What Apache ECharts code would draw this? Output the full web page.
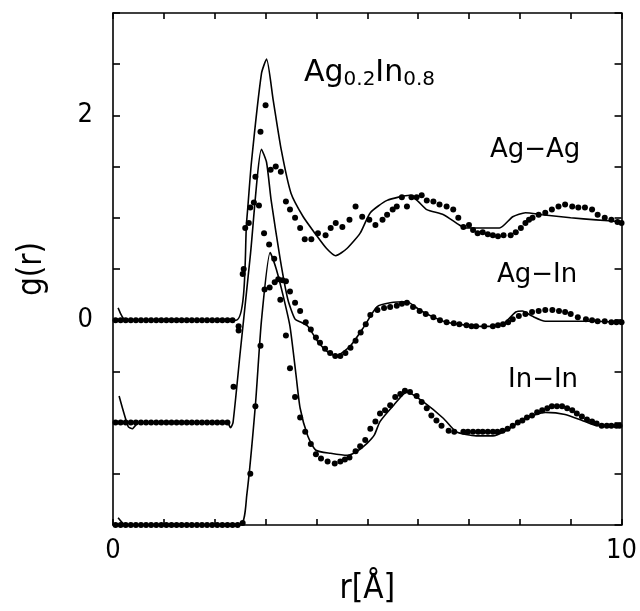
<!DOCTYPE html>
<html>
<head>
<meta charset="utf-8">
<script src="https://cdn.jsdelivr.net/npm/echarts@6/dist/echarts.min.js"></script>
<style>
    html, body { margin: 0; padding: 0; background: #fff; }
    #chart1 { width: 640px; height: 611px; }
</style>
</head>
<body>
<div id="chart1"></div>
<script>
// offsets used in the figure to stack the three pair distributions
var offsets = [0, -1, -2];
var pairNames = ['Ag-Ag', 'Ag-In', 'In-In'];

// tick labels that are printed
var xLabels = [0, 10];
var yLabels = [0, 2];

// theory (solid lines), g(r) unshifted
var agAgLine = [[0.1,0.12],[0.25,0],[2.42,0],[2.63,0.98],[2.72,1.53],[2.92,2.41],[3.02,2.55],[3.15,2.15],[3.31,1.66],[3.5,1.24],[3.74,1.01],[3.97,0.85],[4.2,0.7],[4.38,0.63],[4.6,0.7],[4.86,0.85],[5.06,1.05],[5.39,1.17],[5.84,1.22],[6.0,1.16],[6.17,1.08],[6.5,1.03],[6.81,0.93],[6.95,0.9],[7.6,0.9],[7.86,1.01],[8.11,1.05],[8.44,1.03],[9.0,1.0],[9.5,0.98],[10,0.96]];
var agInLine = [[0.12,0.26],[0.3,-0.04],[0.38,-0.06],[0.5,0],[2.25,0],[2.31,-0.05],[2.36,0],[2.5,0.68],[2.7,1.63],[2.92,2.67],[3.02,2.54],[3.11,2.17],[3.29,1.59],[3.44,1.2],[3.58,1.01],[3.7,0.98],[3.83,0.94],[4.03,0.79],[4.22,0.69],[4.38,0.65],[4.67,0.75],[4.94,0.94],[5.19,1.13],[5.45,1.17],[5.78,1.18],[6.03,1.1],[6.3,1.03],[6.56,0.98],[6.81,0.96],[7.14,0.94],[7.47,0.94],[7.67,0.96],[7.92,1.08],[8.05,1.09],[8.24,1.04],[8.5,0.99],[8.9,0.99],[9.5,0.99],[10,0.98]];
var inInLine = [[0.1,0.07],[0.25,0],[2.5,0],[2.63,0.29],[2.8,1.17],[2.92,2.0],[3.09,2.66],[3.21,2.5],[3.35,2.23],[3.48,1.94],[3.6,1.46],[3.68,1.14],[3.83,0.87],[3.99,0.73],[4.28,0.7],[4.61,0.68],[4.8,0.72],[5.0,0.8],[5.14,0.88],[5.25,1.01],[5.52,1.17],[5.78,1.3],[6.11,1.2],[6.5,1.04],[6.75,0.91],[7.14,0.87],[7.47,0.87],[7.72,0.92],[8.11,1.04],[8.5,1.1],[8.89,1.08],[9.28,1.01],[9.53,0.97],[10,0.97]];

// experiment (dots), g(r) unshifted
var agAgDots = [[0.05,0],[0.15,0],[0.25,0],[0.35,0],[0.45,0],[0.55,0],[0.65,0],[0.75,0],[0.85,0],[0.95,0],[1.05,0],[1.15,0],[1.25,0],[1.35,0],[1.45,0],[1.55,0],[1.65,0],[1.75,0],[1.85,0],[1.95,0],[2.05,0],[2.15,0],[2.25,0],[2.35,0],[2.47,-0.06],[2.55,0.45],[2.6,0.9],[2.7,1.1],[2.8,1.4],[2.9,1.84],[3.0,2.1],[3.1,1.47],[3.2,1.5],[3.3,1.45],[3.4,1.16],[3.48,1.08],[3.58,1.0],[3.68,0.9],[3.77,0.79],[3.9,0.79],[4.03,0.85],[4.18,0.83],[4.28,0.9],[4.38,0.95],[4.51,0.91],[4.65,0.98],[4.77,1.11],[4.9,1.01],[5.04,0.98],[5.16,0.93],[5.3,0.98],[5.39,1.03],[5.5,1.08],[5.58,1.11],[5.68,1.2],[5.78,1.11],[5.87,1.2],[5.97,1.2],[6.07,1.22],[6.17,1.17],[6.3,1.16],[6.42,1.13],[6.56,1.11],[6.69,1.08],[6.79,1.0],[6.89,0.91],[7.0,0.93],[7.08,0.88],[7.17,0.85],[7.27,0.86],[7.37,0.84],[7.47,0.83],[7.57,0.82],[7.68,0.83],[7.82,0.83],[7.92,0.86],[8.02,0.9],[8.11,0.95],[8.18,0.98],[8.25,1.0],[8.37,1.03],[8.5,1.05],[8.63,1.08],[8.76,1.11],[8.89,1.13],[9.03,1.11],[9.15,1.1],[9.28,1.1],[9.42,1.08],[9.53,1.03],[9.67,1.0],[9.8,0.98],[9.92,0.96],[10,0.95]];
var agInDots = [[0.05,0],[0.15,0],[0.25,0],[0.35,0],[0.45,0],[0.55,0],[0.65,0],[0.75,0],[0.85,0],[0.95,0],[1.05,0],[1.15,0],[1.25,0],[1.35,0],[1.45,0],[1.55,0],[1.65,0],[1.75,0],[1.85,0],[1.95,0],[2.05,0],[2.15,0],[2.25,0],[2.37,0.35],[2.47,0.9],[2.57,1.5],[2.67,1.95],[2.77,2.15],[2.87,2.12],[2.97,1.85],[3.07,1.74],[3.17,1.6],[3.25,1.4],[3.33,1.39],[3.4,1.38],[3.48,1.28],[3.58,1.17],[3.68,1.09],[3.79,0.98],[3.89,0.91],[3.99,0.83],[4.07,0.78],[4.17,0.72],[4.27,0.68],[4.37,0.65],[4.47,0.65],[4.57,0.68],[4.67,0.73],[4.77,0.8],[4.87,0.88],[4.97,0.96],[5.06,1.05],[5.2,1.1],[5.33,1.12],[5.45,1.13],[5.58,1.14],[5.68,1.16],[5.78,1.17],[5.9,1.13],[6.03,1.09],[6.15,1.06],[6.3,1.03],[6.43,1.0],[6.56,0.98],[6.7,0.97],[6.81,0.96],[6.95,0.95],[7.05,0.94],[7.14,0.94],[7.3,0.94],[7.47,0.94],[7.57,0.95],[7.67,0.96],[7.77,0.98],[7.86,1.01],[7.98,1.04],[8.11,1.06],[8.24,1.08],[8.37,1.09],[8.5,1.1],[8.64,1.1],[8.77,1.09],[8.89,1.08],[9.0,1.06],[9.14,1.03],[9.3,1.01],[9.42,1.0],[9.53,0.99],[9.67,0.99],[9.8,0.98],[9.9,0.98],[10,0.98]];
var inInDots = [[0.05,0],[0.15,0],[0.25,0],[0.35,0],[0.45,0],[0.55,0],[0.65,0],[0.75,0],[0.85,0],[0.95,0],[1.05,0],[1.15,0],[1.25,0],[1.35,0],[1.45,0],[1.55,0],[1.65,0],[1.75,0],[1.85,0],[1.95,0],[2.05,0],[2.15,0],[2.25,0],[2.35,0],[2.45,0],[2.55,0.02],[2.7,0.5],[2.8,1.16],[2.9,1.75],[2.98,2.3],[3.08,2.32],[3.18,2.37],[3.29,2.2],[3.4,1.85],[3.48,1.53],[3.58,1.25],[3.68,1.05],[3.78,0.91],[3.89,0.79],[3.99,0.69],[4.09,0.65],[4.22,0.62],[4.36,0.6],[4.47,0.62],[4.56,0.64],[4.65,0.66],[4.77,0.72],[4.86,0.77],[4.96,0.83],[5.06,0.94],[5.16,1.01],[5.25,1.09],[5.35,1.12],[5.45,1.17],[5.55,1.25],[5.65,1.28],[5.74,1.31],[5.84,1.3],[5.97,1.26],[6.07,1.2],[6.17,1.14],[6.26,1.07],[6.36,1.02],[6.46,0.97],[6.6,0.92],[6.71,0.91],[6.89,0.91],[6.98,0.91],[7.08,0.91],[7.18,0.91],[7.27,0.91],[7.37,0.91],[7.47,0.91],[7.56,0.91],[7.66,0.92],[7.76,0.94],[7.86,0.97],[7.96,1.0],[8.05,1.02],[8.14,1.05],[8.24,1.07],[8.34,1.1],[8.44,1.12],[8.54,1.14],[8.63,1.16],[8.73,1.16],[8.83,1.16],[8.93,1.14],[9.03,1.12],[9.12,1.09],[9.22,1.06],[9.32,1.03],[9.42,1.01],[9.51,0.99],[9.61,0.97],[9.71,0.97],[9.8,0.97],[9.9,0.97],[9.96,0.97]];

var lines = [agAgLine, agInLine, inInLine];
var dots = [agAgDots, agInDots, inInDots];

function shift(data, off) {
    return data.map(function (p) { return [p[0], p[1] + off]; });
}

drawChart1();

function drawChart1() {
    var dom1 = document.getElementById("chart1");
    var myChart1 = echarts.init(dom1);
    var axisFont = '"Liberation Sans Narrow", "DejaVu Sans Condensed", "Liberation Sans", sans-serif';
    var labelFont = '"DejaVu Sans", sans-serif';
    var lineStyle = { color: '#000', width: 1.6 };

    var series = [];
    for (var i = 0; i < 3; i++) {
        series.push({
            name: pairNames[i] + ' theory',
            type: 'line',
            data: shift(lines[i], offsets[i]),
            showSymbol: false,
            smooth: 0.2,
            lineStyle: { color: '#000', width: 1.6 },
            clip: true,
            z: 2
        });
        series.push({
            name: pairNames[i] + ' exp',
            type: 'scatter',
            data: shift(dots[i], offsets[i]),
            symbol: 'circle',
            symbolSize: 6,
            itemStyle: { color: '#000', opacity: 1 },
            clip: true,
            z: 3
        });
    }

    var option = {
        animation: false,
        backgroundColor: '#fff',
        grid: { left: 113, top: 13, width: 514, height: 515 },
        xAxis: [{
            type: 'value', min: 0, max: 10, interval: 1, position: 'bottom',
            name: 'r[Å]', nameLocation: 'middle', nameGap: 48,
            nameTextStyle: { fontFamily: axisFont, fontSize: 33, color: '#000' },
            axisLine: { onZero: false, lineStyle: lineStyle },
            axisTick: { inside: true, length: 6, lineStyle: lineStyle },
            axisLabel: {
                margin: 12, fontFamily: axisFont, fontSize: 27, color: '#000',
                formatter: function (v) { return xLabels.indexOf(v) >= 0 ? String(v) : ''; }
            },
            splitLine: { show: false }
        }, {
            type: 'value', min: 0, max: 10, interval: 1, position: 'top',
            axisLine: { onZero: false, lineStyle: lineStyle },
            axisTick: { inside: true, length: 6, lineStyle: lineStyle },
            axisLabel: { show: false },
            splitLine: { show: false }
        }],
        yAxis: [{
            type: 'value', min: -2, max: 3, interval: 0.5, position: 'left',
            name: 'g(r)', nameLocation: 'middle', nameGap: 64,
            nameTextStyle: { fontFamily: axisFont, fontSize: 33, color: '#000' },
            axisLine: { onZero: false, lineStyle: lineStyle },
            axisTick: { inside: true, length: 7, lineStyle: lineStyle },
            axisLabel: {
                margin: 20, fontFamily: axisFont, fontSize: 27, color: '#000',
                formatter: function (v) { return yLabels.indexOf(v) >= 0 ? String(v) : ''; }
            },
            splitLine: { show: false }
        }, {
            type: 'value', min: -2, max: 3, interval: 0.5, position: 'right',
            axisLine: { onZero: false, lineStyle: lineStyle },
            axisTick: { inside: true, length: 7, lineStyle: lineStyle },
            axisLabel: { show: false },
            splitLine: { show: false }
        }],
        graphic: [{
            type: 'text', left: 304, top: 58,
            style: {
                text: 'Ag{s|0.2}In{s|0.8}',
                font: '30px "DejaVu Sans", sans-serif',
                fill: '#000',
                rich: { s: { fontSize: 20, fontFamily: labelFont, padding: [14, 0, 0, 0] } }
            }
        }, {
            type: 'text', left: 490, top: 137,
            style: { text: 'Ag−Ag', font: '26px "DejaVu Sans", sans-serif', fill: '#000' }
        }, {
            type: 'text', left: 497, top: 262,
            style: { text: 'Ag−In', font: '26px "DejaVu Sans", sans-serif', fill: '#000' }
        }, {
            type: 'text', left: 508, top: 367,
            style: { text: 'In−In', font: '26px "DejaVu Sans", sans-serif', fill: '#000' }
        }],
        series: series
    };

    if (option && typeof option === "object") {
        myChart1.setOption(option, true);
        window.onresize = myChart1.resize;
    }
}
</script>
</body>
</html>
